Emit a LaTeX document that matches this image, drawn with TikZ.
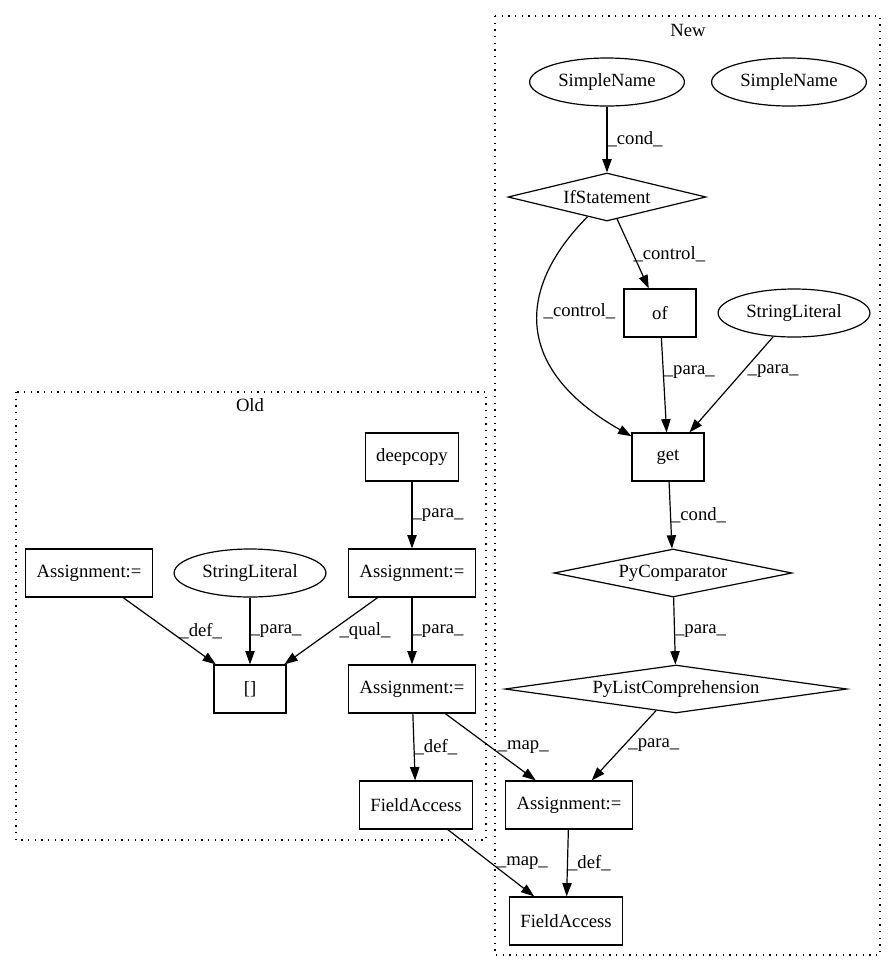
\documentclass[tikz,border=0pt]{standalone}
\usepackage{fontspec}
\setmainfont{Liberation Serif}
\usetikzlibrary{arrows.meta, shapes.geometric}
\tikzset{
  gvnode/.style={draw=black, line width=0.9pt, font=\fontsize{14}{16}\selectfont, minimum height=36pt},
  box/.style={gvnode, rectangle, inner xsep=8pt, minimum width=54pt},
  oval/.style={gvnode, ellipse, inner xsep=4.5pt, inner ysep=2pt},
  decision/.style={gvnode, diamond, aspect=6, inner sep=0pt},
  arrow/.style={-{Triangle[length=10pt, width=7pt]}, line width=0.9pt, draw=black},
  elab/.style={font=\fontsize{14}{16}\selectfont, anchor=west, inner sep=0pt},
  clabel/.style={font=\fontsize{14}{16}\selectfont, inner sep=0pt},
  cluster/.style={draw=black, line width=0.9pt, dash pattern=on 1pt off 4pt}
}

\begin{document}
\begin{tikzpicture}[x=0.75pt, y=-0.75pt]
\useasboundingbox (0,0) rectangle (896,972);

% clusters
\draw[cluster] (495,16) rectangle (880,955);
\node[clabel] (newlbl) at (688,30) {New};
\draw[cluster] (16,392) rectangle (486,840);
\node[clabel] (oldlbl) at (250,405) {Old};

% new version
\node[oval] (sn1) at (607,82) {SimpleName};
\node[oval] (sn2) at (789,82) {SimpleName};
\node[decision, minimum width=148.5pt] (ifst) at (607,197) {IfStatement};
\node[box] (of) at (660,313) {of};
\node[oval] (slnew) at (794,313) {StringLiteral};
\node[box] (get) at (668,457) {get};
\node[decision, minimum width=178.5pt] (pycomp) at (673,573) {PyComparator};
\node[decision, minimum width=256.5pt] (pylist) at (676,689) {PyListComprehension};
\node[box] (asgnnew) at (569,805) {Assignment:=};
\node[box] (fanew) at (566,921) {FieldAccess};

% old version
\node[box] (deepcopy) at (412,457) {deepcopy};
\node[box] (asgna) at (89,573) {Assignment:=};
\node[oval] (slold) at (250,573) {StringLiteral};
\node[box] (asgnb) at (412,573) {Assignment:=};
\node[box] (idx) at (250,689) {[]};
\node[box] (asgnc) at (412,689) {Assignment:=};
\node[box] (faold) at (416,805) {FieldAccess};

% edges
\draw[arrow] (sn1) -- node[elab, pos=0.5]{\_cond\_} (ifst);
\draw[arrow] (ifst) -- node[elab, pos=0.5]{\_control\_} (of);
\draw[arrow] (ifst) .. controls (515,290) and (515,370) .. node[elab, pos=0.42, xshift=4pt]{\_control\_} (get);
\draw[arrow] (of) -- node[elab, pos=0.36]{\_para\_} (get);
\draw[arrow] (slnew) -- node[elab, pos=0.36, xshift=3pt]{\_para\_} (get);
\draw[arrow] (get) -- node[elab, pos=0.5]{\_cond\_} (pycomp);
\draw[arrow] (pycomp) -- node[elab, pos=0.5]{\_para\_} (pylist);
\draw[arrow] (pylist) -- node[elab, pos=0.5, xshift=3pt]{\_para\_} (asgnnew);
\draw[arrow] (asgnnew) -- node[elab, pos=0.5]{\_def\_} (fanew);

\draw[arrow] (deepcopy) -- node[elab, pos=0.5]{\_para\_} (asgnb);
\draw[arrow] (asgna) -- node[elab, pos=0.5, xshift=7pt]{\_def\_} (idx);
\draw[arrow] (slold) -- node[elab, pos=0.5]{\_para\_} (idx);
\draw[arrow] (asgnb) -- node[elab, pos=0.5, xshift=6pt]{\_qual\_} (idx);
\draw[arrow] (asgnb) -- node[elab, pos=0.5]{\_para\_} (asgnc);
\draw[arrow] (asgnc) -- node[elab, pos=0.5]{\_def\_} (faold);
\draw[arrow] (asgnc) -- node[elab, pos=0.5, xshift=5pt]{\_map\_} (asgnnew);
\draw[arrow] (faold) -- node[elab, pos=0.5, xshift=4pt]{\_map\_} (fanew);

\end{tikzpicture}
\end{document}
